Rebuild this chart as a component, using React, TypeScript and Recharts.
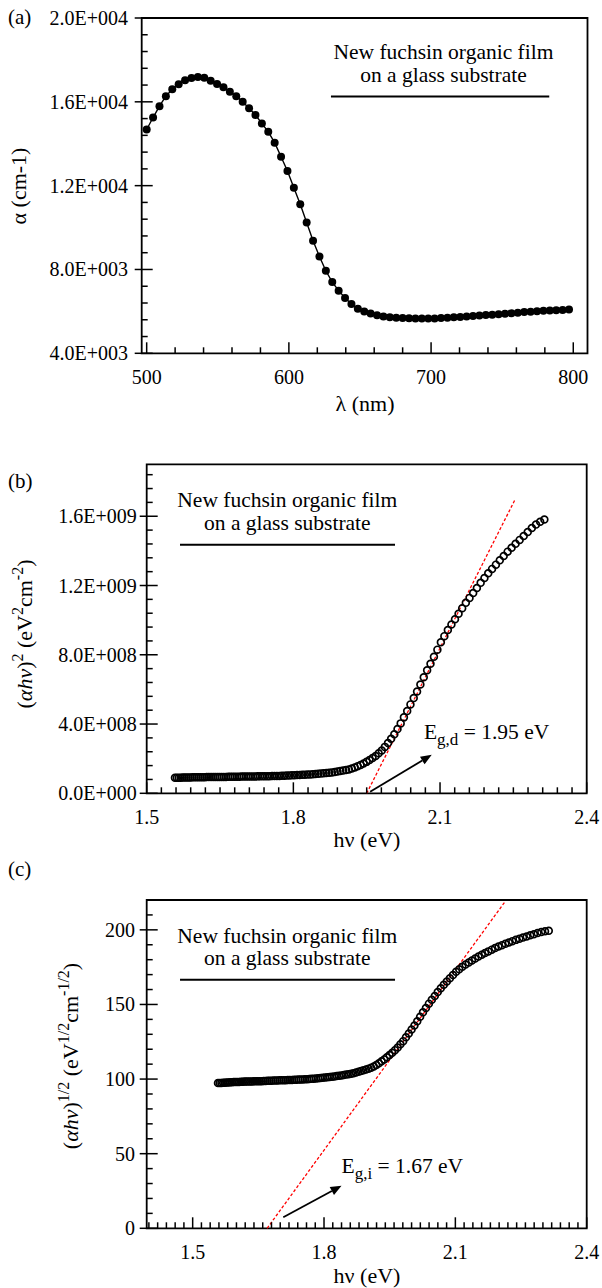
import React from 'react';
import {
  ComposedChart,
  Line,
  Scatter,
  XAxis,
  YAxis,
  ReferenceLine,
  ReferenceDot,
  ReferenceArea,
} from 'recharts';

const FONT = '"Liberation Serif", "Times New Roman", Times, serif';
const INK = '#000000';
const FIT_RED = '#ff0000';

// ---------------- Panel (a): absorption coefficient vs wavelength ----------------
const wavelengthNm = [
  500, 504.5, 509, 513.5, 518, 522.5, 527, 531.5, 536, 540.5,
  545, 549.5, 554, 558.5, 563, 567.5, 572, 576.5, 581, 585.5,
  590, 594.5, 599, 603.5, 608, 612.5, 617, 621.5, 626, 630.5,
  635, 639.5, 644, 648.5, 653, 657.5, 662, 666.5, 671, 675.5,
  680, 684.5, 689, 693.5, 698, 702.5, 707, 711.5, 716, 720.5,
  725, 729.5, 734, 738.5, 743, 747.5, 752, 756.5, 761, 765.5,
  770, 774.5, 779, 783.5, 788, 792.5, 797,
];
const absorptionCoefficient = [
  14680, 15250, 15790, 16270, 16600, 16840, 17030, 17140, 17190, 17150,
  17010, 16850, 16690, 16480, 16270, 16000, 15690, 15370, 14970, 14570,
  14050, 13380, 12700, 11900, 11110, 10240, 9370, 8620, 7940, 7400,
  6990, 6640, 6350, 6120, 5990, 5900, 5815, 5760, 5725, 5697,
  5680, 5670, 5665, 5662, 5662, 5665, 5680, 5698, 5715, 5738,
  5760, 5785, 5808, 5825, 5845, 5865, 5890, 5915, 5940, 5965,
  5985, 6005, 6025, 6040, 6050, 6065, 6090,
];

// ---------------- Panels (b) and (c): Tauc plots vs photon energy ----------------
const photonEnergyEv = [
  1.5578, 1.5617, 1.5657, 1.5696, 1.5736, 1.5776, 1.5816, 1.5857, 1.5897, 1.5938,
  1.5979, 1.6021, 1.6062, 1.6104, 1.6146, 1.6188, 1.6230, 1.6273, 1.6316, 1.6359,
  1.6402, 1.6446, 1.6489, 1.6533, 1.6578, 1.6622, 1.6667, 1.6712, 1.6757, 1.6802,
  1.6848, 1.6894, 1.6940, 1.6986, 1.7033, 1.7080, 1.7127, 1.7175, 1.7222, 1.7270,
  1.7318, 1.7367, 1.7416, 1.7465, 1.7514, 1.7564, 1.7614, 1.7664, 1.7714, 1.7765,
  1.7816, 1.7867, 1.7919, 1.7971, 1.8023, 1.8076, 1.8129, 1.8182, 1.8235, 1.8289,
  1.8343, 1.8398, 1.8452, 1.8507, 1.8563, 1.8619, 1.8675, 1.8731, 1.8788, 1.8845,
  1.8902, 1.8960, 1.9018, 1.9077, 1.9136, 1.9195, 1.9255, 1.9315, 1.9375, 1.9436,
  1.9497, 1.9558, 1.9620, 1.9683, 1.9745, 1.9808, 1.9872, 1.9936, 2.0000, 2.0065,
  2.0130, 2.0195, 2.0261, 2.0328, 2.0395, 2.0462, 2.0530, 2.0598, 2.0667, 2.0736,
  2.0805, 2.0875, 2.0946, 2.1017, 2.1088, 2.1160, 2.1233, 2.1306, 2.1379, 2.1453,
  2.1528, 2.1603, 2.1678, 2.1754, 2.1831, 2.1908, 2.1986, 2.2064, 2.2143, 2.2222,
  2.2302, 2.2383, 2.2464, 2.2545, 2.2628, 2.2711, 2.2794, 2.2878, 2.2963, 2.3048,
  2.3134,
];
// (alpha h nu)^2 in eV^2 cm^-2
const directTauc = [
  8.985e7, 8.998e7, 9.014e7, 9.038e7, 9.063e7, 9.095e7, 9.128e7, 9.155e7, 9.183e7, 9.208e7,
  9.229e7, 9.249e7, 9.270e7, 9.289e7, 9.312e7, 9.333e7, 9.347e7, 9.362e7, 9.378e7, 9.392e7,
  9.403e7, 9.419e7, 9.432e7, 9.444e7, 9.460e7, 9.481e7, 9.506e7, 9.530e7, 9.551e7, 9.573e7,
  9.602e7, 9.627e7, 9.647e7, 9.665e7, 9.683e7, 9.698e7, 9.716e7, 9.736e7, 9.755e7, 9.775e7,
  9.795e7, 9.827e7, 9.855e7, 9.882e7, 9.914e7, 9.942e7, 9.974e7, 1.001e8, 1.006e8, 1.012e8,
  1.017e8, 1.023e8, 1.030e8, 1.036e8, 1.043e8, 1.050e8, 1.057e8, 1.065e8, 1.073e8, 1.082e8,
  1.091e8, 1.102e8, 1.113e8, 1.125e8, 1.138e8, 1.152e8, 1.167e8, 1.186e8, 1.208e8, 1.232e8,
  1.256e8, 1.283e8, 1.311e8, 1.343e8, 1.381e8, 1.435e8, 1.495e8, 1.567e8, 1.640e8, 1.724e8,
  1.815e8, 1.917e8, 2.032e8, 2.156e8, 2.312e8, 2.474e8, 2.681e8, 2.902e8, 3.147e8, 3.411e8,
  3.707e8, 4.038e8, 4.385e8, 4.753e8, 5.134e8, 5.499e8, 5.879e8, 6.279e8, 6.700e8, 7.100e8,
  7.485e8, 7.889e8, 8.295e8, 8.720e8, 9.075e8, 9.434e8, 9.749e8, 1.0051e9, 1.0366e9, 1.0689e9,
  1.0999e9, 1.1285e9, 1.1569e9, 1.1859e9, 1.2155e9, 1.2433e9, 1.2709e9, 1.2958e9, 1.3204e9, 1.3452e9,
  1.3706e9, 1.3956e9, 1.4184e9, 1.4406e9, 1.4633e9, 1.4863e9, 1.5086e9, 1.5323e9, 1.5518e9, 1.5678e9,
  1.5814e9,
];
// (alpha h nu)^(1/2) in eV^1/2 cm^-1/2
const indirectTauc = [
  97.36, 97.40, 97.44, 97.50, 97.57, 97.66, 97.74, 97.82, 97.89, 97.96,
  98.02, 98.07, 98.12, 98.17, 98.23, 98.29, 98.33, 98.37, 98.41, 98.44,
  98.47, 98.51, 98.55, 98.58, 98.62, 98.68, 98.74, 98.80, 98.86, 98.91,
  98.99, 99.06, 99.11, 99.15, 99.20, 99.24, 99.28, 99.33, 99.38, 99.43,
  99.48, 99.56, 99.63, 99.70, 99.78, 99.85, 99.93, 100.03, 100.15, 100.29,
  100.43, 100.58, 100.74, 100.89, 101.05, 101.22, 101.39, 101.58, 101.77, 102.00,
  102.21, 102.45, 102.72, 103.00, 103.30, 103.61, 103.94, 104.37, 104.84, 105.36,
  105.87, 106.44, 107.00, 107.65, 108.40, 109.44, 110.58, 111.87, 113.17, 114.58,
  116.07, 117.67, 119.39, 121.18, 123.30, 125.41, 127.96, 130.52, 133.19, 135.90,
  138.76, 141.75, 144.71, 147.66, 150.53, 153.13, 155.71, 158.29, 160.89, 163.24,
  165.41, 167.59, 169.71, 171.84, 173.56, 175.25, 176.70, 178.05, 179.44, 180.81,
  182.11, 183.28, 184.43, 185.57, 186.72, 187.78, 188.81, 189.73, 190.62, 191.51,
  192.41, 193.28, 194.06, 194.82, 195.58, 196.35, 197.08, 197.85, 198.48, 198.99,
  199.42,
];

// Linear extrapolations (fit lines) and arrow annotations, in data units
const directFitLine = [{ x: 1.95, y: 0 }, { x: 2.253, y: 1.694e9 }];
const indirectFitLine = [{ x: 1.67, y: 0 }, { x: 2.213, y: 218.7 }];
const directArrow = [{ x: 1.957, y: 0.9e7 }, { x: 2.083, y: 2.22e8 }];
const indirectArrow = [{ x: 1.707, y: 7.4 }, { x: 1.84, y: 28.5 }];
const directGapLabel = { x: 2.067, y: 3.13e8, sub: 'g,d', rest: ' = 1.95 eV' };
const indirectGapLabel = { x: 1.84, y: 37, sub: 'g,i', rest: ' = 1.67 eV' };
const sampleLines = ['New fuchsin organic film', 'on a glass substrate'];

// ---------------- Axes ----------------
const aXDomain = [496.5, 810];
const aYDomain = [4000, 20000];
const aXMajor = [500, 600, 700, 800];
const aXLabels = ['500', '600', '700', '800'];
const aYMajor = [4000, 8000, 12000, 16000, 20000];
const aYLabels = ['4.0E+003', '8.0E+003', '1.2E+004', '1.6E+004', '2.0E+004'];

const bXDomain = [1.5, 2.4];
const bYDomain = [0, 1.9e9];
const bXMajor = [1.5, 1.8, 2.1, 2.4];
const bXLabels = ['1.5', '1.8', '2.1', '2.4'];
const bYMajor = [0, 4e8, 8e8, 1.2e9, 1.6e9];
const bYLabels = ['0.0E+000', '4.0E+008', '8.0E+008', '1.2E+009', '1.6E+009'];

const cXDomain = [1.395, 2.4];
const cYDomain = [0, 220];
const cXMajor = [1.5, 1.8, 2.1, 2.4];
const cXLabels = ['1.5', '1.8', '2.1', '2.4'];
const cYMajor = [0, 50, 100, 150, 200];
const cYLabels = ['0', '50', '100', '150', '200'];

const steps = (start: number, stop: number, step: number) => {
  const n = Math.round((stop - start) / step);
  return Array.from({ length: n + 1 }, (_, k) => Number((start + k * step).toFixed(6)));
};

const aXTicks = steps(500, 800, 20);
const aYTicks = steps(4000, 20000, 800);
const bXTicks = steps(1.5, 2.4, 0.03);
const bYTicks = steps(0, 1.84e9, 0.08e9);
const cXTicks = steps(1.4, 2.4, 0.02);
const cYTicks = steps(0, 220, 10);

const tableA = wavelengthNm.map((x, i) => ({ x, y: absorptionCoefficient[i] }));
const tableB = photonEnergyEv.map((x, i) => ({ x, y: directTauc[i] }));
const tableC = photonEnergyEv.map((x, i) => ({ x, y: indirectTauc[i] }));

// ---------------- Custom ticks (inside ticks, majors labelled) ----------------
const makeXTick = (majors: number[], labels: string[], tol: number) =>
  function XTick(props: any) {
    const { x, y, payload } = props;
    const i = majors.findIndex((m) => Math.abs(m - payload.value) < tol);
    const major = i >= 0;
    return (
      <g>
        <line x1={x} x2={x} y1={y} y2={y - (major ? 11 : 6)} stroke={INK} strokeWidth={1.5} />
        {major ? (
          <text x={x} y={y + 31} textAnchor="middle" fontFamily={FONT} fontSize={20} fill={INK}>
            {labels[i]}
          </text>
        ) : null}
      </g>
    );
  };

const makeYTick = (majors: number[], labels: string[], tol: number, gap: number) =>
  function YTick(props: any) {
    const { x, y, payload } = props;
    const i = majors.findIndex((m) => Math.abs(m - payload.value) < tol);
    const major = i >= 0;
    return (
      <g>
        <line x1={major ? x - 7 : x} x2={x + (major ? 11 : 6)} y1={y} y2={y} stroke={INK} strokeWidth={1.5} />
        {major ? (
          <text x={x - gap} y={y + 7} textAnchor="end" fontFamily={FONT} fontSize={20} fill={INK}>
            {labels[i]}
          </text>
        ) : null}
      </g>
    );
  };

// ---------------- Shapes ----------------
const OpenCircle = (props: any) => (
  <circle cx={props.cx} cy={props.cy} r={3.4} fill="none" stroke={INK} strokeWidth={1.7} />
);

const ArrowShape = (props: any) => {
  const { x1, y1, x2, y2 } = props;
  const ang = Math.atan2(y2 - y1, x2 - x1);
  const L = 11;
  const W = 4.5;
  const bx = x2 - L * Math.cos(ang);
  const by = y2 - L * Math.sin(ang);
  const px = -Math.sin(ang) * W;
  const py = Math.cos(ang) * W;
  return (
    <g>
      <line x1={x1} y1={y1} x2={bx} y2={by} stroke={INK} strokeWidth={1.8} />
      <polygon points={`${x2},${y2} ${bx + px},${by + py} ${bx - px},${by - py}`} fill={INK} />
    </g>
  );
};

const makeGapLabel = (sub: string, rest: string) =>
  function GapLabel(props: any) {
    return (
      <text x={props.cx} y={props.cy} fontFamily={FONT} fontSize={21.5} fill={INK}>
        E
        <tspan fontSize={17} dy={6}>
          {sub}
        </tspan>
        <tspan dy={-6}>{rest}</tspan>
      </text>
    );
  };

const makeSampleBox = (lineGap: number, ulLeft: number, ulRight: number, ulDy: number) =>
  function SampleBox(props: any) {
    const { cx, cy } = props;
    return (
      <g>
        <text x={cx} y={cy} textAnchor="middle" fontFamily={FONT} fontSize={21.5} fill={INK}>
          {sampleLines[0]}
        </text>
        <text x={cx} y={cy + lineGap} textAnchor="middle" fontFamily={FONT} fontSize={21.5} fill={INK}>
          {sampleLines[1]}
        </text>
        <line x1={cx + ulLeft} x2={cx + ulRight} y1={cy + ulDy} y2={cy + ulDy} stroke={INK} strokeWidth={2} />
      </g>
    );
  };

const frameProps = { fill: 'none', stroke: INK, strokeWidth: 1.8, ifOverflow: 'visible' as const };

function PanelA() {
  return (
    <ComposedChart
      width={602}
      height={430}
      data={tableA}
      margin={{ top: 18, right: 14.5, bottom: 16.7, left: 0 }}
    >
      <XAxis
        type="number"
        dataKey="x"
        domain={aXDomain}
        allowDataOverflow
        ticks={aXTicks}
        interval={0}
        tickSize={0}
        tickMargin={0}
        axisLine={false}
        tickLine={false}
        height={60}
        tick={makeXTick(aXMajor, aXLabels, 1)}
      />
      <YAxis
        type="number"
        dataKey="y"
        domain={aYDomain}
        allowDataOverflow
        ticks={aYTicks}
        interval={0}
        tickSize={0}
        tickMargin={0}
        axisLine={false}
        tickLine={false}
        width={141.7}
        tick={makeYTick(aYMajor, aYLabels, 50, 13.7)}
      />
      <ReferenceArea x1={aXDomain[0]} x2={aXDomain[1]} y1={aYDomain[0]} y2={aYDomain[1]} {...frameProps} />
      <Line
        type="linear"
        dataKey="y"
        stroke={INK}
        strokeWidth={1.4}
        dot={{ r: 4, fill: INK, stroke: INK, strokeWidth: 0 }}
        isAnimationActive={false}
      />
      <ReferenceDot x={708.7} y={18048} ifOverflow="visible" shape={makeSampleBox(23, -112.5, 105.8, 37.7)} />
    </ComposedChart>
  );
}

function PanelB() {
  return (
    <ComposedChart
      width={602}
      height={430}
      data={tableB}
      margin={{ top: 34.3, right: 15.3, bottom: 6.7, left: 0 }}
    >
      <XAxis
        type="number"
        dataKey="x"
        domain={bXDomain}
        allowDataOverflow
        ticks={bXTicks}
        interval={0}
        tickSize={0}
        tickMargin={0}
        axisLine={false}
        tickLine={false}
        height={60}
        tick={makeXTick(bXMajor, bXLabels, 0.005)}
      />
      <YAxis
        type="number"
        dataKey="y"
        domain={bYDomain}
        allowDataOverflow
        ticks={bYTicks}
        interval={0}
        tickSize={0}
        tickMargin={0}
        axisLine={false}
        tickLine={false}
        width={146.7}
        tick={makeYTick(bYMajor, bYLabels, 1e7, 10)}
      />
      <ReferenceArea x1={bXDomain[0]} x2={bXDomain[1]} y1={bYDomain[0]} y2={bYDomain[1]} {...frameProps} />
      <Scatter dataKey="y" shape={OpenCircle} isAnimationActive={false} />
      <ReferenceLine
        segment={directFitLine}
        stroke={FIT_RED}
        strokeWidth={1.3}
        strokeDasharray="3 2"
        ifOverflow="visible"
      />
      <ReferenceLine segment={directArrow} shape={ArrowShape} ifOverflow="visible" />
      <ReferenceDot
        x={directGapLabel.x}
        y={directGapLabel.y}
        ifOverflow="visible"
        shape={makeGapLabel(directGapLabel.sub, directGapLabel.rest)}
      />
      <ReferenceDot x={1.7876} y={1.652e9} ifOverflow="visible" shape={makeSampleBox(22.5, -107.3, 107.7, 37.4)} />
    </ComposedChart>
  );
}

function PanelC() {
  return (
    <ComposedChart
      width={602}
      height={428}
      data={tableC}
      margin={{ top: 40, right: 15.3, bottom: 4.7, left: 0 }}
    >
      <XAxis
        type="number"
        dataKey="x"
        domain={cXDomain}
        allowDataOverflow
        ticks={cXTicks}
        interval={0}
        tickSize={0}
        tickMargin={0}
        axisLine={false}
        tickLine={false}
        height={55}
        tick={makeXTick(cXMajor, cXLabels, 0.005)}
      />
      <YAxis
        type="number"
        dataKey="y"
        domain={cYDomain}
        allowDataOverflow
        ticks={cYTicks}
        interval={0}
        tickSize={0}
        tickMargin={0}
        axisLine={false}
        tickLine={false}
        width={146.7}
        tick={makeYTick(cYMajor, cYLabels, 1, 11.7)}
      />
      <ReferenceArea x1={cXDomain[0]} x2={cXDomain[1]} y1={cYDomain[0]} y2={cYDomain[1]} {...frameProps} />
      <Scatter dataKey="y" shape={OpenCircle} isAnimationActive={false} />
      <ReferenceLine
        segment={indirectFitLine}
        stroke={FIT_RED}
        strokeWidth={1.3}
        strokeDasharray="3 2"
        ifOverflow="visible"
      />
      <ReferenceLine segment={indirectArrow} shape={ArrowShape} ifOverflow="visible" />
      <ReferenceDot
        x={indirectGapLabel.x}
        y={indirectGapLabel.y}
        ifOverflow="visible"
        shape={makeGapLabel(indirectGapLabel.sub, indirectGapLabel.rest)}
      />
      <ReferenceDot x={1.7162} y={191.3} ifOverflow="visible" shape={makeSampleBox(22, -107.3, 107.7, 37)} />
    </ComposedChart>
  );
}

const titleStyle = { fontFamily: FONT, fill: INK } as const;

function Titles() {
  return (
    <svg width={602} height={1288} style={{ position: 'absolute', left: 0, top: 0, pointerEvents: 'none' }}>
      <text x={8} y={24} fontSize={21} {...titleStyle}>(a)</text>
      <text x={8} y={488} fontSize={21} {...titleStyle}>(b)</text>
      <text x={8} y={876} fontSize={21} {...titleStyle}>(c)</text>

      <text x={365} y={411} textAnchor="middle" fontSize={22} {...titleStyle}>λ (nm)</text>
      <text x={367} y={847} textAnchor="middle" fontSize={22} {...titleStyle}>hν (eV)</text>
      <text x={367} y={1283} textAnchor="middle" fontSize={22} {...titleStyle}>hν (eV)</text>

      <text x={26} y={186} transform="rotate(-90 26 186)" textAnchor="middle" fontSize={22} {...titleStyle}>
        α (cm-1)
      </text>
      <text x={32} y={634} transform="rotate(-90 32 634)" textAnchor="middle" fontSize={22} {...titleStyle}>
        (<tspan fontStyle="italic">αhν</tspan>)
        <tspan fontSize={16} dy={-9}>2</tspan>
        <tspan dy={9}> (eV</tspan>
        <tspan fontSize={16} dy={-9}>2</tspan>
        <tspan dy={9}>cm</tspan>
        <tspan fontSize={16} dy={-9}>-2</tspan>
        <tspan dy={9}>)</tspan>
      </text>
      <text x={78} y={1056} transform="rotate(-90 78 1056)" textAnchor="middle" fontSize={22} {...titleStyle}>
        (<tspan fontStyle="italic">αhν</tspan>)
        <tspan fontSize={16} dy={-9}>1/2</tspan>
        <tspan dy={9}> (eV</tspan>
        <tspan fontSize={16} dy={-9}>1/2</tspan>
        <tspan dy={9}>cm</tspan>
        <tspan fontSize={16} dy={-9}>-1/2</tspan>
        <tspan dy={9}>)</tspan>
      </text>
    </svg>
  );
}

export default function App() {
  return (
    <div style={{ position: 'absolute', left: 0, top: 0, width: 602, height: 1288, background: '#ffffff' }}>
      <div style={{ position: 'absolute', left: 0, top: 0 }}>
        <PanelA />
      </div>
      <div style={{ position: 'absolute', left: 0, top: 430 }}>
        <PanelB />
      </div>
      <div style={{ position: 'absolute', left: 0, top: 860 }}>
        <PanelC />
      </div>
      <Titles />
    </div>
  );
}
